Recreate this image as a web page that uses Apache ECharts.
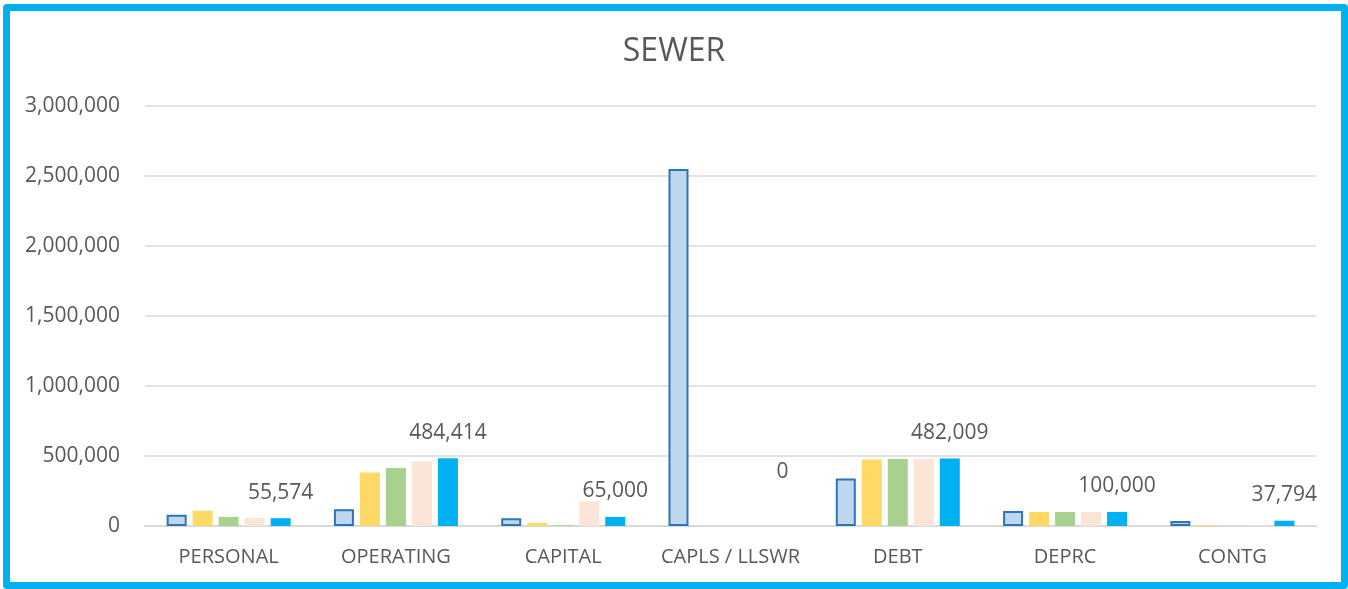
<!DOCTYPE html>
<html>
<head>
<meta charset="utf-8">
<title>SEWER</title>
<script src="https://cdn.jsdelivr.net/npm/echarts@6/dist/echarts.min.js"></script>
<style>
  html, body { margin: 0; padding: 0; background: #ffffff; }
  #chart { position: absolute; left: 0; top: 0; width: 1348px; height: 589px; }
  #frame {
    position: absolute; left: 3px; top: 4px; width: 1345px; height: 585px;
    box-sizing: border-box; border: 7px solid #00B0F0; border-radius: 4px;
    pointer-events: none;
  }
</style>
</head>
<body>
<div id="chart"></div>
<div id="frame"></div>
<script>
// Sewer fund budget by expense category, five budget columns per category
const categories = ['PERSONAL', 'OPERATING', 'CAPITAL', 'CAPLS / LLSWR', 'DEBT', 'DEPRC', 'CONTG'];
const seriesNames = ['Series 1', 'Series 2', 'Series 3', 'Series 4', 'Series 5'];
const values1 = [80000, 120000, 55000, 2550000, 340000, 108000, 35000];
const values2 = [110000, 383000, 22000, 0, 475000, 100000, 5000];
const values3 = [65000, 414000, 5000, 0, 478000, 100000, 0];
const values4 = [58000, 462000, 176000, 0, 480000, 100000, 6000];
const values5 = [55574, 484414, 65000, 0, 482009, 100000, 37794];
const yTicks = [0, 500000, 1000000, 1500000, 2000000, 2500000, 3000000];

const textColor = '#595959';
const fontFamily = '"Open Sans", "Noto Sans", sans-serif';
const fmt = v => Number(v).toLocaleString('en-US');

const seriesValues = [values1, values2, values3, values4, values5];
const fills = ['#BDD7EE', '#FFD966', '#A9D18E', '#FBE5D6', '#00B0F0'];
const lastIndex = seriesValues.length - 1;

const series = seriesValues.map((vals, i) => ({
  name: seriesNames[i],
  type: 'bar',
  // a zero column gets its value label lifted clear of the axis line
  data: i === lastIndex
    ? vals.map(v => (v === 0 ? { value: v, label: { offset: [0, -28] } } : v))
    : vals,
  barWidth: 20,
  barGap: '30%',
  itemStyle: i === 0
    ? { color: fills[i], borderColor: '#2E75B6', borderWidth: 2 }
    : { color: fills[i] },
  label: i === lastIndex ? {
    show: true,
    position: 'top',
    distance: 15,
    color: textColor,
    fontFamily: fontFamily,
    fontSize: 21,
    formatter: p => fmt(p.value)
  } : { show: false },
  animation: false
}));

const chart = echarts.init(document.getElementById('chart'), null, { renderer: 'canvas' });
chart.setOption({
  backgroundColor: 'transparent',
  animation: false,
  title: {
    text: 'SEWER',
    left: 'center',
    top: 31,
    textStyle: { color: textColor, fontFamily: fontFamily, fontSize: 32, fontWeight: 'normal' }
  },
  grid: { left: 145, right: 32, top: 106, bottom: 63, containLabel: false },
  xAxis: {
    type: 'category',
    data: categories,
    axisLine: { lineStyle: { color: '#D9D9D9', width: 2 } },
    axisTick: { show: false },
    axisLabel: { interval: 0, color: textColor, fontFamily: fontFamily, fontSize: 20, margin: 21 }
  },
  yAxis: {
    type: 'value',
    min: yTicks[0],
    max: yTicks[yTicks.length - 1],
    interval: yTicks[1] - yTicks[0],
    axisLine: { show: false },
    axisTick: { show: false },
    splitLine: { lineStyle: { color: '#D9D9D9', width: 1.5 } },
    axisLabel: { color: textColor, fontFamily: fontFamily, fontSize: 21, margin: 25, formatter: v => fmt(v) }
  },
  series: series
});
</script>
</body>
</html>
